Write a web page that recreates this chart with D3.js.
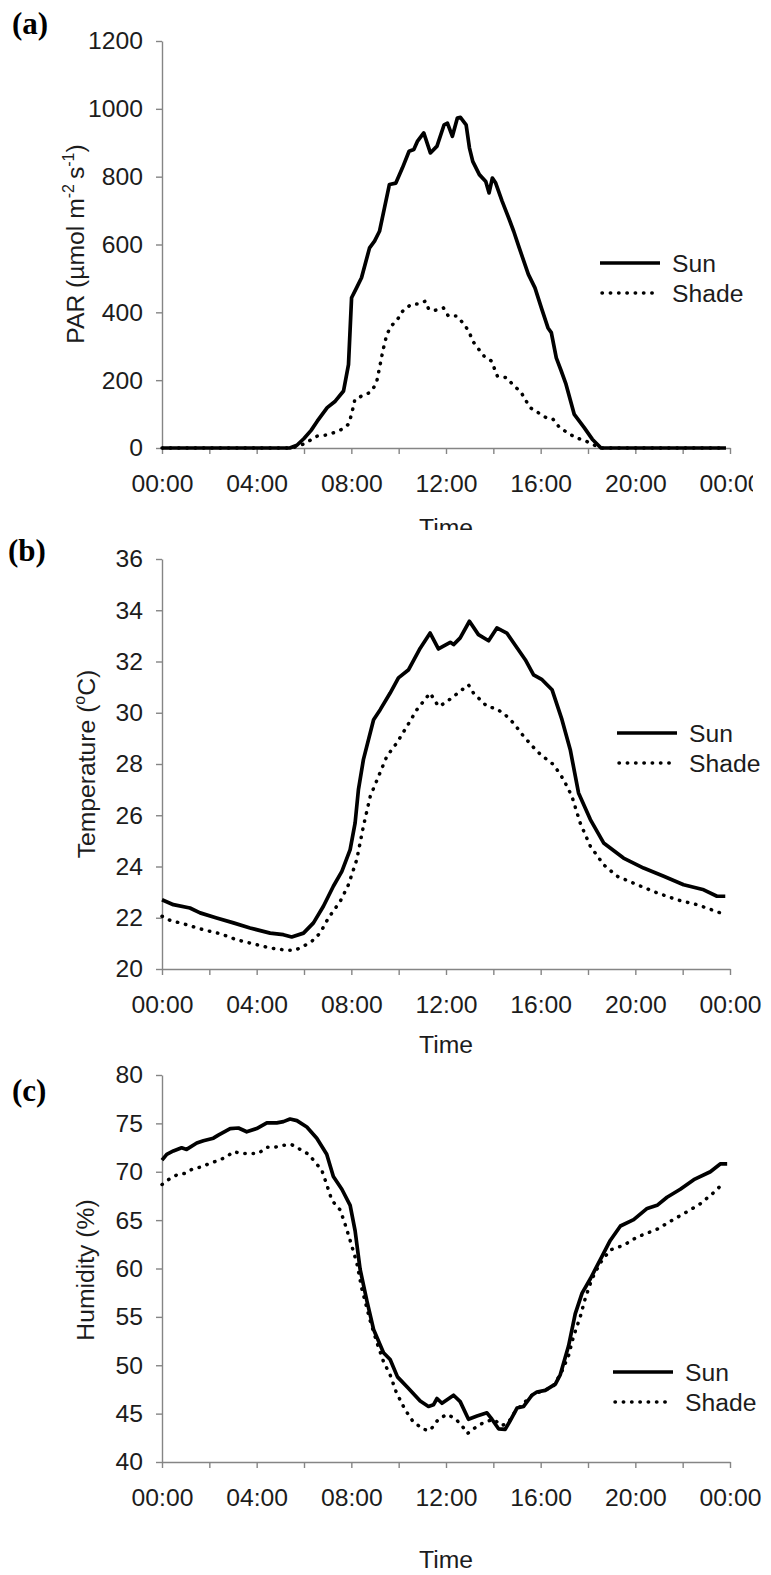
<!DOCTYPE html>
<html>
<head>
<meta charset="utf-8">
<script src="https://cdn.jsdelivr.net/npm/d3@7"></script>
<style>
  body { margin: 0; background: #fff; }
  svg { display: block; }
</style>
</head>
<body>
<svg id="fig" width="771" height="1575"></svg>
<script>
// ---- shared axis values ----
const hourTicks = [0, 2, 4, 6, 8, 10, 12, 14, 16, 18, 20, 22, 24];
const xTickLabels = ["00:00", "04:00", "08:00", "12:00", "16:00", "20:00", "00:00"];
const seriesNames = ["Sun", "Shade"];

// ---- (a) PAR, µmol m-2 s-1 ----
const parTicks = [0, 200, 400, 600, 800, 1000, 1200];
const parTimeSun = [0, 5.4, 5.7, 6.0, 6.3, 6.56, 6.98, 7.32, 7.67, 7.88, 8.01, 8.22, 8.43, 8.77, 8.98, 9.19, 9.40, 9.61, 9.88, 10.16, 10.44, 10.64, 10.79, 11.06, 11.34, 11.62, 11.92, 12.06, 12.27, 12.48, 12.61, 12.85, 12.99, 13.13, 13.41, 13.68, 13.82, 13.96, 14.10, 14.37, 14.65, 14.86, 15.07, 15.48, 15.76, 16.03, 16.31, 16.45, 16.66, 16.87, 17.07, 17.42, 17.84, 18.18, 18.55, 23.83];
const parSun = [0, 0, 8, 28, 52, 79, 119, 138, 168, 246, 443, 472, 502, 590, 610, 639, 708, 777, 781, 826, 875, 880, 904, 929, 870, 890, 953, 958, 919, 973, 975, 953, 885, 845, 806, 786, 752, 796, 781, 728, 678, 639, 595, 512, 472, 413, 354, 340, 266, 227, 188, 99, 60, 26, 0, 0];
const parTimeShade = [0, 5.5, 6.0, 6.56, 6.91, 7.25, 7.6, 7.88, 8.01, 8.15, 8.43, 8.77, 9.05, 9.19, 9.33, 9.5, 9.68, 9.95, 10.16, 10.51, 10.85, 11.13, 11.27, 11.54, 11.89, 12.1, 12.45, 12.78, 12.99, 13.13, 13.34, 13.61, 13.93, 14.03, 14.17, 14.58, 14.86, 15.14, 15.35, 15.55, 15.9, 16.24, 16.52, 16.8, 17.14, 17.49, 17.84, 18.2, 18.6, 23.83];
const parShade = [0, 0, 12, 35, 38, 45, 55, 70, 99, 143, 153, 163, 188, 236, 286, 335, 359, 379, 403, 423, 425, 433, 409, 406, 413, 389, 389, 364, 340, 315, 295, 271, 256, 237, 212, 207, 183, 168, 143, 119, 104, 89, 85, 60, 45, 30, 23, 10, 0, 0];

// ---- (b) Temperature, °C ----
const tempTicks = [20, 22, 24, 26, 28, 30, 32, 34, 36];
const tempTimeSun = [0, 0.48, 1.18, 1.61, 2.31, 3.02, 3.72, 4.57, 5.13, 5.48, 5.98, 6.40, 6.82, 7.24, 7.60, 7.95, 8.16, 8.30, 8.51, 8.94, 9.22, 9.64, 9.99, 10.42, 10.91, 11.33, 11.68, 12.18, 12.32, 12.6, 12.99, 13.37, 13.8, 14.15, 14.57, 14.86, 15.35, 15.7, 16.06, 16.48, 16.9, 17.25, 17.6, 18.1, 18.66, 19.5, 20.35, 21.2, 22.04, 22.89, 23.45, 23.8];
const tempSun = [22.70, 22.51, 22.38, 22.19, 21.99, 21.80, 21.60, 21.40, 21.34, 21.25, 21.40, 21.80, 22.45, 23.23, 23.81, 24.66, 25.70, 27.00, 28.17, 29.73, 30.12, 30.77, 31.36, 31.68, 32.52, 33.11, 32.49, 32.75, 32.66, 32.92, 33.57, 33.05, 32.81, 33.31, 33.11, 32.72, 32.07, 31.48, 31.29, 30.90, 29.73, 28.56, 26.87, 25.83, 24.92, 24.33, 23.94, 23.62, 23.29, 23.09, 22.84, 22.84];
const tempTimeShade = [0, 0.34, 1.04, 1.75, 2.45, 3.16, 3.86, 4.57, 5.27, 5.62, 5.98, 6.33, 6.68, 7.03, 7.53, 7.88, 8.23, 8.51, 8.8, 9.15, 9.5, 9.92, 10.35, 10.77, 11.33, 11.68, 11.97, 12.32, 12.95, 13.16, 13.73, 14.15, 14.5, 14.85, 15.28, 15.84, 16.19, 16.55, 16.97, 17.32, 17.67, 18.1, 18.66, 19.23, 20.07, 20.92, 21.76, 22.61, 23.59];
const tempShade = [22.06, 21.90, 21.73, 21.53, 21.38, 21.14, 20.98, 20.82, 20.73, 20.73, 20.89, 21.08, 21.40, 21.99, 22.64, 23.29, 24.27, 25.57, 26.74, 27.52, 28.30, 28.82, 29.47, 30.12, 30.77, 30.25, 30.38, 30.64, 31.09, 30.77, 30.25, 30.15, 29.92, 29.60, 29.08, 28.50, 28.23, 27.97, 27.39, 26.74, 25.70, 24.79, 24.07, 23.62, 23.29, 22.97, 22.70, 22.51, 22.19];

// ---- (c) Relative humidity, % ----
const humTicks = [40, 45, 50, 55, 60, 65, 70, 75, 80];
const humTimeSun = [0, 0.2, 0.48, 0.83, 1.04, 1.47, 1.75, 2.17, 2.38, 2.88, 3.23, 3.58, 4.0, 4.43, 4.85, 5.13, 5.41, 5.7, 6.12, 6.54, 6.96, 7.24, 7.6, 7.95, 8.16, 8.37, 8.66, 8.94, 9.36, 9.64, 9.95, 10.38, 10.91, 11.26, 11.47, 11.62, 11.83, 12.32, 12.6, 12.95, 13.31, 13.73, 13.94, 14.22, 14.5, 14.71, 15.0, 15.28, 15.63, 15.84, 16.19, 16.62, 16.83, 17.18, 17.46, 17.75, 18.1, 18.52, 18.94, 19.37, 19.93, 20.5, 20.92, 21.34, 21.9, 22.47, 23.17, 23.6, 23.88];
const humSun = [71.2, 71.8, 72.15, 72.48, 72.31, 72.97, 73.2, 73.47, 73.79, 74.46, 74.52, 74.13, 74.46, 75.05, 75.05, 75.18, 75.45, 75.28, 74.62, 73.47, 71.81, 69.5, 68.19, 66.53, 63.89, 59.93, 56.63, 53.7, 51.3, 50.6, 48.8, 47.7, 46.3, 45.74, 45.91, 46.56, 46.07, 46.9, 46.24, 44.42, 44.75, 45.08, 44.42, 43.43, 43.37, 44.26, 45.58, 45.74, 46.9, 47.23, 47.4, 48.05, 49.04, 52.01, 55.31, 57.46, 58.94, 60.92, 62.9, 64.39, 65.05, 66.21, 66.53, 67.36, 68.19, 69.18, 70.0, 70.82, 70.82];
const humTimeShade = [0, 0.27, 0.62, 0.97, 1.32, 1.68, 2.03, 2.38, 2.74, 3.02, 3.37, 3.72, 4.07, 4.43, 4.78, 5.13, 5.48, 5.84, 6.19, 6.47, 6.75, 6.96, 7.18, 7.53, 7.74, 7.95, 8.23, 8.44, 8.79, 9.08, 9.36, 9.64, 9.9, 10.27, 10.6, 11.05, 11.33, 11.68, 12.04, 12.39, 12.67, 12.91, 13.16, 13.59, 14.01, 14.36, 14.64, 14.93, 15.28, 15.7, 16.19, 16.55, 16.9, 17.18, 17.39, 17.67, 17.89, 18.17, 18.52, 18.94, 19.51, 20.07, 20.92, 21.48, 22.19, 22.75, 23.31, 23.59];
const humShade = [68.68, 69.18, 69.67, 69.83, 70.33, 70.5, 70.89, 71.16, 71.55, 72.08, 71.88, 71.88, 71.88, 72.54, 72.54, 72.74, 72.8, 72.31, 71.81, 70.99, 70.17, 68.68, 67.03, 66.04, 64.55, 62.9, 60.59, 57.95, 54.65, 52.35, 50.37, 49.0, 47.2, 45.41, 44.2, 43.37, 43.27, 44.42, 44.92, 44.49, 43.76, 42.94, 43.43, 44.09, 44.42, 43.76, 44.09, 45.25, 46.07, 47.06, 47.4, 47.89, 49.38, 51.02, 53.0, 54.98, 56.96, 58.94, 60.59, 61.91, 62.41, 63.24, 64.06, 64.88, 65.87, 66.7, 67.85, 68.51];

// ---- drawing ----
const SANS = '"Liberation Sans", Arial, Helvetica, sans-serif';
const SERIF = '"Liberation Serif", "Times New Roman", serif';
const AXIS_GREY = "#858585";
const TEXT = "#1c1c1c";
const FS = 24.7;
const DOTS = "0.4 7.9";

const svg = d3.select("#fig");
svg.append("rect").attr("width", 771).attr("height", 1575).attr("fill", "#fff");

const defs = svg.append("defs");
defs.append("clipPath").attr("id", "clipA")
  .append("rect").attr("x", 0).attr("y", 0).attr("width", 753).attr("height", 530);

const panels = [
  {
    letter: "(a)", letterX: 12, letterY: 34,
    left: 162, right: 730, top: 41, bottom: 448, timeY: 536,
    domain: [0, 1200], ticks: parTicks,
    sun: [parTimeSun, parSun], shade: [parTimeShade, parShade],
    titleX: 84, titleY: 244, title: "par",
    legendX: 600, legendY: 263, clip: "clipA"
  },
  {
    letter: "(b)", letterX: 8, letterY: 561,
    left: 162, right: 730, top: 559, bottom: 969, timeY: 1053,
    domain: [20, 36], ticks: tempTicks,
    sun: [tempTimeSun, tempSun], shade: [tempTimeShade, tempShade],
    titleX: 95, titleY: 764, title: "temp",
    legendX: 617, legendY: 733
  },
  {
    letter: "(c)", letterX: 12, letterY: 1101,
    left: 162, right: 730, top: 1075, bottom: 1462, timeY: 1568,
    domain: [40, 80], ticks: humTicks,
    sun: [humTimeSun, humSun], shade: [humTimeShade, humShade],
    titleX: 94, titleY: 1270, title: "hum",
    legendX: 613, legendY: 1372
  }
];

function styleAxis(sel) {
  sel.select(".domain").attr("stroke", AXIS_GREY).attr("stroke-width", 1.4);
  sel.selectAll(".tick line").attr("stroke", AXIS_GREY).attr("stroke-width", 1.4);
  sel.selectAll(".tick text")
    .attr("fill", TEXT)
    .style("font-family", SANS)
    .style("font-size", FS + "px");
}

function drawTitle(g, p) {
  const t = g.append("text")
    .attr("transform", `translate(${p.titleX},${p.titleY}) rotate(-90)`)
    .attr("text-anchor", "middle")
    .attr("fill", TEXT)
    .style("font-family", SANS)
    .style("font-size", FS + "px");
  const sup = (txt) => t.append("tspan").attr("dy", -10).style("font-size", "16px").text(txt);
  const back = (txt) => t.append("tspan").attr("dy", 10).text(txt);
  if (p.title === "par") {
    t.append("tspan").text("PAR (\u00B5mol m");
    sup("-2");
    back("\u2009s");
    sup("-1");
    back(")");
  } else if (p.title === "temp") {
    t.append("tspan").text("Temperature (");
    sup("o");
    back("C)");
  } else {
    t.append("tspan").text("Humidity (%)");
  }
}

panels.forEach(p => {
  const g = svg.append("g");
  if (p.clip) g.attr("clip-path", `url(#${p.clip})`);

  const x = d3.scaleLinear().domain([0, 24]).range([p.left, p.right]);
  const y = d3.scaleLinear().domain(p.domain).range([p.bottom, p.top]);

  // x axis: ticks every 2 h, labels every 4 h
  const xAxis = d3.axisBottom(x)
    .tickValues(hourTicks)
    .tickSize(6).tickSizeOuter(0).tickPadding(20)
    .tickFormat(h => (h % 4 === 0 ? xTickLabels[h / 4] : ""));
  g.append("g").attr("transform", `translate(0,${p.bottom})`).call(xAxis).call(styleAxis);

  const yAxis = d3.axisLeft(y)
    .tickValues(p.ticks)
    .tickFormat(d3.format("d"))
    .tickSize(6).tickSizeOuter(0).tickPadding(13);
  g.append("g").attr("transform", `translate(${p.left},0)`).call(yAxis).call(styleAxis);

  // x title
  g.append("text")
    .attr("x", (p.left + p.right) / 2).attr("y", p.timeY)
    .attr("text-anchor", "middle").attr("fill", TEXT)
    .style("font-family", SANS).style("font-size", FS + "px")
    .text("Time");

  drawTitle(g, p);

  // panel letter
  g.append("text")
    .attr("x", p.letterX).attr("y", p.letterY)
    .attr("fill", "#000")
    .style("font-family", SERIF).style("font-size", "31px").style("font-weight", "bold")
    .text(p.letter);

  const line = d3.line().x(d => x(d[0])).y(d => y(d[1]));

  g.append("path")
    .datum(d3.zip(p.shade[0], p.shade[1]))
    .attr("d", line)
    .attr("fill", "none").attr("stroke", "#000")
    .attr("stroke-width", 3.5)
    .attr("stroke-linecap", "round")
    .attr("stroke-dasharray", DOTS);

  g.append("path")
    .datum(d3.zip(p.sun[0], p.sun[1]))
    .attr("d", line)
    .attr("fill", "none").attr("stroke", "#000")
    .attr("stroke-width", 3.7)
    .attr("stroke-linejoin", "round");

  // legend
  const lg = g.append("g");
  seriesNames.forEach((name, i) => {
    const ly = p.legendY + i * 30;
    lg.append("line")
      .attr("x1", p.legendX + (i === 0 ? 0 : 2)).attr("x2", p.legendX + (i === 0 ? 60 : 54))
      .attr("y1", ly).attr("y2", ly)
      .attr("stroke", "#000")
      .attr("stroke-width", i === 0 ? 3.7 : 3.5)
      .attr("stroke-linecap", i === 0 ? "butt" : "round")
      .attr("stroke-dasharray", i === 0 ? null : DOTS);
    lg.append("text")
      .attr("x", p.legendX + 72).attr("y", ly + 9)
      .attr("fill", TEXT)
      .style("font-family", SANS).style("font-size", FS + "px")
      .text(name);
  });
});
</script>
</body>
</html>
